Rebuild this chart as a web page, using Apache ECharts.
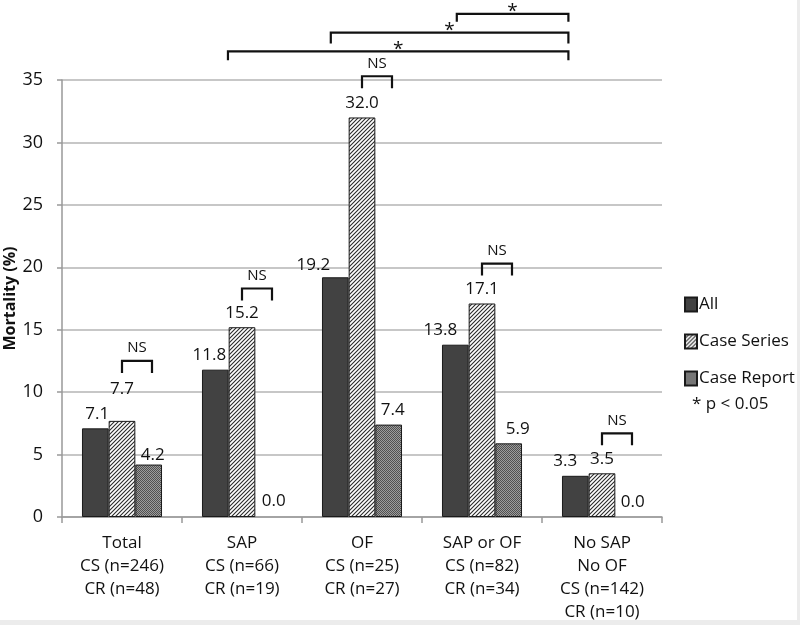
<!DOCTYPE html>
<html>
<head>
<meta charset="utf-8">
<script src="https://cdn.jsdelivr.net/npm/echarts@6/dist/echarts.min.js"></script>
<style>
html,body{margin:0;padding:0;background:#fff;}
#c{width:800px;height:625px;}
</style>
</head>
<body>
<div id="c"></div>
<script>
// ---- data ----
const categories = [
  'Total\nCS (n=246)\nCR (n=48)',
  'SAP\nCS (n=66)\nCR (n=19)',
  'OF\nCS (n=25)\nCR (n=27)',
  'SAP or OF\nCS (n=82)\nCR (n=34)',
  'No SAP\nNo OF\nCS (n=142)\nCR (n=10)'
];
const allValues = [7.1, 11.8, 19.2, 13.8, 3.3];
const caseSeriesValues = [7.7, 15.2, 32.0, 17.1, 3.5];
const caseReportValues = [4.2, 0.0, 7.4, 5.9, 0.0];
const yTicks = [0, 5, 10, 15, 20, 25, 30, 35];
// NS brackets (Case Series vs Case Report) level in % units
const nsLevels = [12.5, 18.3, 35.3, 20.3, 6.7];
// significance brackets: from category -> to category, level in % units
const sigFrom = [1, 2, 3];
const sigTo = [4, 4, 4];
const sigLevels = [37.3, 38.8, 40.3];
const sigText = ['*', '*', '*'];

// ---- styling helpers ----
const FONT = 'Open Sans';
function hatchPattern() {
  const c = document.createElement('canvas');
  c.width = 4; c.height = 4;
  const g = c.getContext('2d');
  g.fillStyle = '#ffffff'; g.fillRect(0, 0, 4, 4);
  g.strokeStyle = '#2a2a2a'; g.lineWidth = 1.1;
  g.beginPath();
  g.moveTo(-1, 5); g.lineTo(5, -1);
  g.moveTo(-1, 1); g.lineTo(1, -1);
  g.moveTo(3, 5); g.lineTo(5, 3);
  g.stroke();
  return c;
}
function dotPattern() {
  const c = document.createElement('canvas');
  c.width = 2; c.height = 2;
  const g = c.getContext('2d');
  g.fillStyle = '#9c9c9c'; g.fillRect(0, 0, 2, 2);
  g.fillStyle = '#505050'; g.fillRect(0, 0, 1, 1); g.fillRect(1, 1, 1, 1);
  return c;
}

// per-label nudges [dx, dy] (pure styling)
const offAll = [[2, 0], [-6, 0], [-22, 2], [-15, 0], [-10, 0]];
const offCS = [[0, -17], [0, 0], [0, 0], [0, 0], [0, 0]];
const offCR = [[4, 5], [5, -1], [4, 0], [9, 0], [4, 0]];

function items(vals, offs) {
  return vals.map((v, i) => ({
    value: v,
    label: { offset: offs[i] },
    itemStyle: v === 0 ? { borderWidth: 0 } : undefined
  }));
}

const labelBase = {
  show: true, position: 'top', distance: 6,
  formatter: p => p.value.toFixed(1),
  fontFamily: FONT, fontSize: 17, color: '#111'
};

const chart = echarts.init(document.getElementById('c'), null, { renderer: 'canvas' });

const bracketData = [];
nsLevels.forEach((lv, i) => bracketData.push({ from: i, fromOff: 0.0, to: i, toOff: 0.25, y: lv, leg: 12, text: 'NS', gap: 13, fs: 15 }));
const sigFromOff = [-0.117, -0.26, -0.21];
const sigLeg = [9, 11, 8];
sigLevels.forEach((lv, i) => bracketData.push({ from: sigFrom[i], fromOff: sigFromOff[i], to: sigTo[i], toOff: -0.28, y: lv, leg: sigLeg[i], text: sigText[i], gap: 2, fs: 19 }));

const option = {
  backgroundColor: '#ffffff',
  animation: false,
  textStyle: { fontFamily: FONT },
  grid: { left: 62, right: 138, top: 80, bottom: 108, containLabel: false, outerBoundsMode: 'none' },
  legend: {
    data: ['All', 'Case Series', 'Case Report'],
    orient: 'vertical', left: 684, top: 296,
    itemWidth: 12, itemHeight: 14, itemGap: 20, padding: 0,
    icon: 'rect',
    textStyle: { fontFamily: FONT, fontSize: 17, color: '#111', padding: [0, 0, 0, -3] }
  },
  xAxis: {
    type: 'category', data: categories,
    axisLine: { lineStyle: { color: '#999', width: 1.5 } },
    axisTick: { show: true, length: 6, lineStyle: { color: '#999', width: 1.5 } },
    axisLabel: { fontFamily: FONT, fontSize: 17, color: '#111', lineHeight: 23, margin: 15, interval: 0 }
  },
  yAxis: {
    type: 'value', min: yTicks[0], max: yTicks[yTicks.length - 1], interval: yTicks[1] - yTicks[0],
    name: 'Mortality (%)', nameLocation: 'middle', nameGap: 44, nameMoveOverlap: false,
    nameTextStyle: { fontFamily: FONT, fontSize: 16, fontWeight: 'bold', color: '#111' },
    axisLine: { show: true, lineStyle: { color: '#999', width: 1.5 } },
    axisTick: { show: true, length: 5, lineStyle: { color: '#999', width: 1.5 } },
    axisLabel: { fontFamily: FONT, fontSize: 18, color: '#111', margin: 19 },
    splitLine: { lineStyle: { color: '#b4b4b4', width: 1.5 } }
  },
  series: [
    {
      name: 'All', type: 'bar', data: items(allValues, offAll),
      barGap: '0%', barCategoryGap: '33.3%',
      itemStyle: { color: '#424242', borderColor: '#1a1a1a', borderWidth: 1 },
      label: labelBase
    },
    {
      name: 'Case Series', type: 'bar', data: items(caseSeriesValues, offCS),
      barGap: '0%', barCategoryGap: '33.3%',
      itemStyle: { color: { image: hatchPattern(), repeat: 'repeat' }, borderColor: '#1a1a1a', borderWidth: 1 },
      label: labelBase
    },
    {
      name: 'Case Report', type: 'bar', data: items(caseReportValues, offCR),
      barGap: '0%', barCategoryGap: '33.3%',
      itemStyle: { color: { image: dotPattern(), repeat: 'repeat' }, borderColor: '#1a1a1a', borderWidth: 1 },
      label: labelBase
    },
    {
      name: 'brackets', type: 'custom', clip: false, silent: true, z: 10,
      data: bracketData.map(b => [b.from, b.y]),
      renderItem: function (params, api) {
        const b = bracketData[params.dataIndex];
        const band = api.size([1, 0])[0];
        const p1 = api.coord([b.from, b.y]);
        const p2 = api.coord([b.to, b.y]);
        const x1 = p1[0] + b.fromOff * band;
        const x2 = p2[0] + b.toOff * band;
        const y = p1[1];
        return {
          type: 'group',
          children: [
            {
              type: 'polyline',
              shape: { points: [[x1, y + b.leg], [x1, y], [x2, y], [x2, y + b.leg]] },
              style: { stroke: '#111', lineWidth: 2.2, fill: null }
            },
            {
              type: 'text',
              style: {
                text: b.text, x: (x1 + x2) / 2, y: y - b.gap,
                align: 'center', verticalAlign: 'middle',
                font: b.fs + 'px "' + FONT + '"', fill: '#111'
              }
            }
          ]
        };
      }
    }
  ],
  graphic: [
    {
      type: 'text', left: 692, top: 396,
      style: { text: '* p < 0.05', font: '17px "' + FONT + '"', fill: '#111' }
    },
    { type: 'rect', shape: { x: 797, y: 0, width: 3, height: 625 }, style: { fill: '#ececec' }, silent: true },
    { type: 'rect', shape: { x: 0, y: 620, width: 800, height: 5 }, style: { fill: '#ececec' }, silent: true }
  ]
};
chart.setOption(option);
</script>
</body>
</html>
